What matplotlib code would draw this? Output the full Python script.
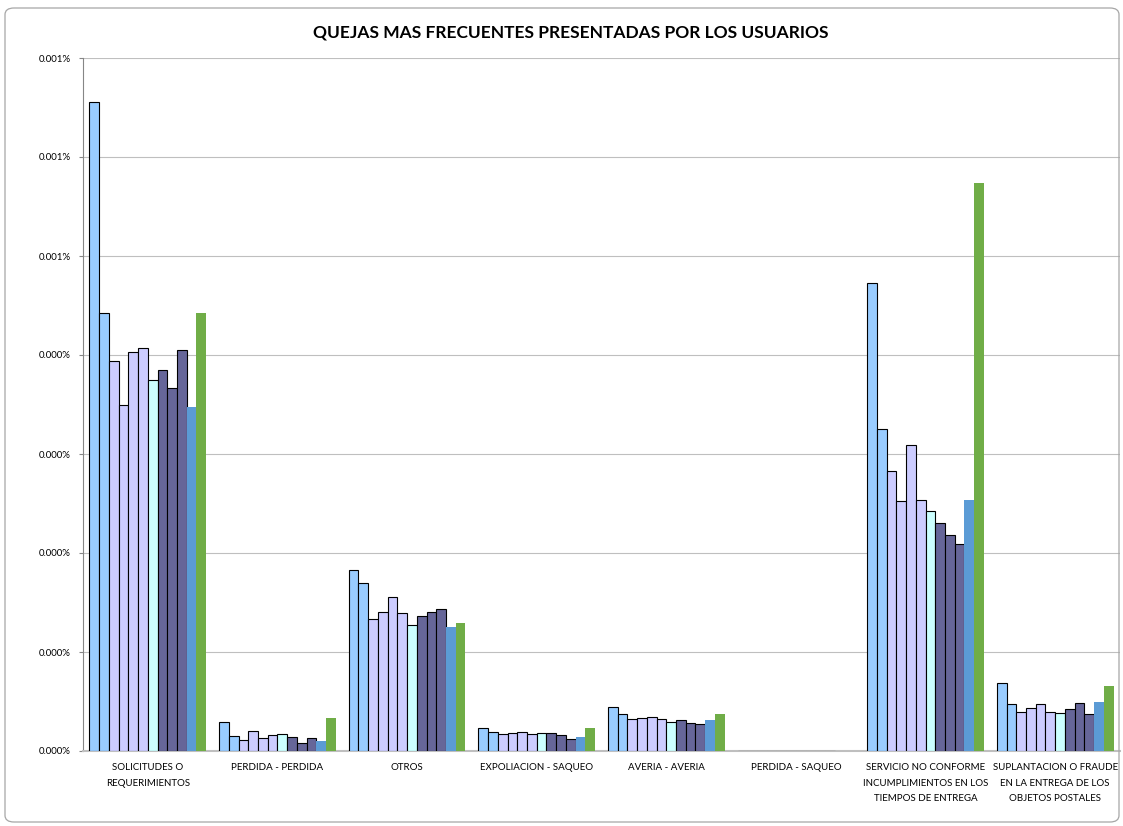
import numpy as np
import matplotlib
matplotlib.use('Agg')
import matplotlib.pyplot as plt
from matplotlib.patches import FancyBboxPatch

plt.rcParams['font.family'] = ['Lato', 'DejaVu Sans']

categorias = ['SOLICITUDES O\nREQUERIMIENTOS', 'PERDIDA - PERDIDA', 'OTROS',
              'EXPOLIACION - SAQUEO', 'AVERIA - AVERIA', 'PERDIDA - SAQUEO',
              'SERVICIO NO CONFORME\nINCUMPLIMIENTOS EN LOS\nTIEMPOS DE ENTREGA',
              'SUPLANTACION O FRAUDE\nEN LA ENTREGA DE LOS\nOBJETOS POSTALES']

# valores en unidades de 0.0001 %
serie01 = [6.556, 0.29, 1.825, 0.235, 0.445, 0, 4.732, 0.685]
serie02 = [4.426, 0.15, 1.70, 0.19, 0.375, 0, 3.253, 0.47]
serie03 = [3.943, 0.11, 1.33, 0.17, 0.325, 0, 2.831, 0.39]
serie04 = [3.495, 0.205, 1.40, 0.185, 0.335, 0, 2.523, 0.43]
serie05 = [4.03, 0.13, 1.56, 0.19, 0.34, 0, 3.094, 0.475]
serie06 = [4.073, 0.16, 1.39, 0.175, 0.325, 0, 2.538, 0.39]
serie07 = [3.75, 0.17, 1.275, 0.185, 0.295, 0, 2.424, 0.38]
serie08 = [3.85, 0.14, 1.36, 0.185, 0.315, 0, 2.306, 0.42]
serie09 = [3.67, 0.08, 1.40, 0.165, 0.285, 0, 2.181, 0.48]
serie10 = [4.047, 0.135, 1.43, 0.125, 0.275, 0, 2.086, 0.37]
serie11 = [3.474, 0.10, 1.25, 0.14, 0.31, 0, 2.538, 0.50]
serie12 = [4.426, 0.33, 1.29, 0.23, 0.37, 0, 5.735, 0.66]

etiquetas_y = ['0.000%', '0.000%', '0.000%', '0.000%', '0.000%', '0.001%', '0.001%', '0.001%']

series = [serie01, serie02, serie03, serie04, serie05, serie06,
          serie07, serie08, serie09, serie10, serie11, serie12]
colores = ['#99CCFF', '#99CCFF', '#CCCCFF', '#CCCCFF', '#CCCCFF', '#CCCCFF',
           '#CCFFFF', '#666699', '#666699', '#666699', '#5B9BD5', '#70AD47']

fig = plt.figure(figsize=(11.23, 8.26), dpi=100)
borde = FancyBboxPatch((5/1123, 4/826), 1114/1123, 814/826,
                       boxstyle='round,pad=0,rounding_size=0.008',
                       transform=fig.transFigure, facecolor='none',
                       edgecolor='#A6A6A6', linewidth=0.9)
fig.patches.append(borde)

ax = fig.add_axes([83/1123, 75/826, 1037/1123, 693/826])

x = np.arange(len(categorias))
n = len(series)
ancho = 0.9 / n
for i, (vals, c) in enumerate(zip(series, colores)):
    pos = x - 0.45 + ancho * (i + 0.5)
    if i < 10:
        ax.bar(pos, vals, width=ancho, color=c, edgecolor='black', linewidth=0.8, zorder=3)
    else:
        ax.bar(pos, vals, width=ancho, color=c, linewidth=0, zorder=3)

ax.set_xlim(-0.5, len(categorias) - 0.5)
ax.set_ylim(0, 7)
ax.set_yticks(range(8))
ax.set_yticklabels(etiquetas_y, fontsize=7)
ax.set_xticks(x)
ax.set_xticklabels(categorias, fontsize=7, linespacing=1.9)
ax.tick_params(axis='x', length=0, pad=9)
ax.tick_params(axis='y', length=3, color='#868686', pad=6)
ax.grid(True, axis='y', color='#BFBFBF', linewidth=0.8, zorder=0)
ax.set_axisbelow(True)
for s in ['top', 'right']:
    ax.spines[s].set_visible(False)
ax.spines['left'].set_color('#868686')
ax.spines['bottom'].set_color('#BFBFBF')
ax.spines['bottom'].set_linewidth(1.5)

fig.text(571/1123, 1 - 32/826, 'QUEJAS MAS FRECUENTES PRESENTADAS POR LOS USUARIOS',
         ha='center', va='center', fontsize=12.5, fontweight='bold')

fig.savefig('out.png', dpi=100)
